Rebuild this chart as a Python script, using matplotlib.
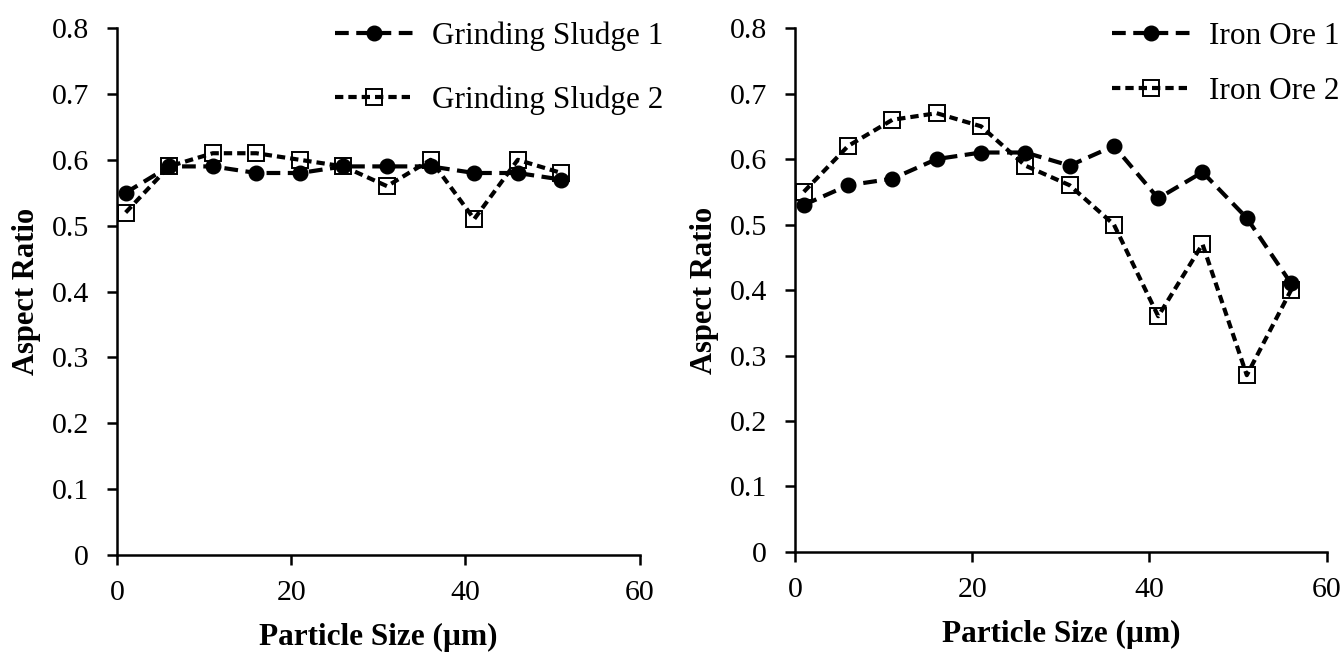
import matplotlib
matplotlib.use("Agg")
import matplotlib.pyplot as plt

plt.rcParams['font.family'] = ['Liberation Serif', 'DejaVu Serif']

x_left = [1, 6, 11, 16, 21, 26, 31, 36, 41, 46, 51]
gs1 = [0.55, 0.59, 0.59, 0.58, 0.58, 0.59, 0.59, 0.59, 0.58, 0.58, 0.57]
gs2 = [0.52, 0.59, 0.61, 0.61, 0.60, 0.59, 0.56, 0.60, 0.51, 0.60, 0.58]

x_right = [1, 6, 11, 16, 21, 26, 31, 36, 41, 46, 51, 56]
io1 = [0.53, 0.56, 0.57, 0.60, 0.61, 0.61, 0.59, 0.62, 0.54, 0.58, 0.51, 0.41]
io2 = [0.55, 0.62, 0.66, 0.67, 0.65, 0.59, 0.56, 0.50, 0.36, 0.47, 0.27, 0.40]

xticks = [0, 20, 40, 60]
yticks = [0, 0.1, 0.2, 0.3, 0.4, 0.5, 0.6, 0.7, 0.8]
ytick_labels = ['0', '0.1', '0.2', '0.3', '0.4', '0.5', '0.6', '0.7', '0.8']

fig = plt.figure(figsize=(13.44, 6.53), dpi=100)
ax1 = fig.add_axes([0.087, 0.150, 0.389, 0.807])
ax2 = fig.add_axes([0.5915, 0.1547, 0.3955, 0.8023])

def style(ax, xs, s1, s2, l1, l2, leg_anchor, lspace):
    ax.plot(xs, s2, color='black', lw=3.0, dashes=(2.0, 1.2), marker='s',
            markersize=11.5, markerfacecolor='none', markeredgecolor='black',
            markeredgewidth=1.4, label=l2)
    ax.plot(xs, s1, color='black', lw=3.0, dashes=(3.3, 1.8), marker='o',
            markersize=10.5, markerfacecolor='black', markeredgecolor='black', label=l1)
    ax.set_xlim(0, 60)
    ax.set_ylim(0, 0.8)
    ax.set_xticks(xticks)
    ax.set_yticks(yticks)
    ax.set_yticklabels(ytick_labels)
    for s in ['top', 'right']:
        ax.spines[s].set_visible(False)
    for s in ['left', 'bottom']:
        ax.spines[s].set_linewidth(1.8)
    ax.tick_params(axis='both', direction='out', length=7, width=1.8, labelsize=21.5)
    ax.tick_params(axis='y', pad=13)
    ax.tick_params(axis='x', pad=11)
    ax.set_xlabel('Particle Size (µm)', fontsize=22.5, fontweight='bold', labelpad=12)
    ax.set_ylabel('Aspect Ratio', fontsize=22, fontweight='bold', labelpad=8)
    handles, labels = ax.get_legend_handles_labels()
    ax.legend(handles[::-1], labels[::-1], loc='upper right', bbox_to_anchor=leg_anchor,
              bbox_transform=fig.transFigure, frameon=False,
              fontsize=22.5, handlelength=2.5, handletextpad=0.6,
              labelspacing=lspace, borderaxespad=0, borderpad=0)
    ax.patch.set_visible(False)

style(ax1, x_left, gs1, gs2, 'Grinding Sludge 1', 'Grinding Sludge 2', (0.4935, 0.967), 1.1)
style(ax2, x_right, io1, io2, 'Iron Ore 1', 'Iron Ore 2', (0.9965, 0.967), 0.86)

fig.savefig('out.png', dpi=100)
